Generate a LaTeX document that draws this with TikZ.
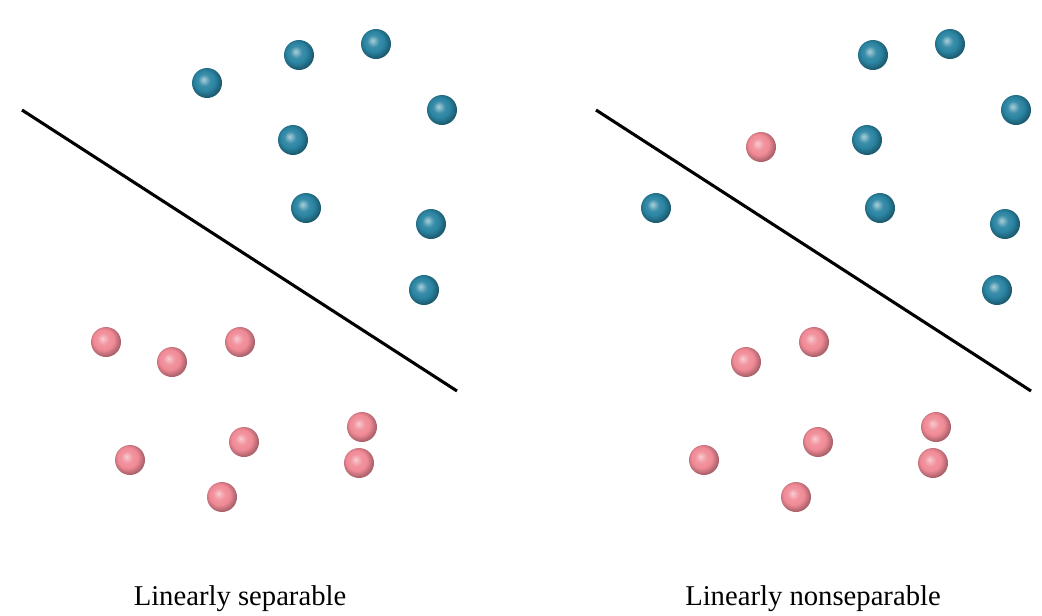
\documentclass[tikz,border=0pt]{standalone}
\usepackage{fontspec}
\setmainfont{Liberation Serif}
\definecolor{ballblue}{RGB}{42,132,162}
\definecolor{ballpink}{RGB}{240,138,150}
\pgfdeclareradialshading{blueballsh}{\pgfpoint{-6bp}{6bp}}{%
  color(0bp)=(ballblue!40!white); color(3bp)=(ballblue!55!white);
  color(10bp)=(ballblue!92!white); color(17bp)=(ballblue);
  color(26bp)=(ballblue!70!black); color(32bp)=(ballblue!65!black);
  color(50bp)=(ballblue!65!black)}
\pgfdeclareradialshading{pinkballsh}{\pgfpoint{-6bp}{6bp}}{%
  color(0bp)=(ballpink!40!white); color(3bp)=(ballpink!60!white);
  color(10bp)=(ballpink!92!white); color(17bp)=(ballpink);
  color(26bp)=(ballpink!72!black); color(32bp)=(ballpink!65!black);
  color(50bp)=(ballpink!65!black)}
\tikzset{
  bball/.style={circle,minimum size=22.5pt,inner sep=0pt,shading=blueballsh},
  pball/.style={circle,minimum size=22.5pt,inner sep=0pt,shading=pinkballsh},
  sepline/.style={line width=2.3pt,black},
  caption/.style={font=\fontsize{21.5}{24}\selectfont,anchor=base}
}
\begin{document}
\begin{tikzpicture}[x=0.75pt,y=-0.75pt]
\useasboundingbox (0,0) rectangle (1042,615);
% left panel
\coordinate (l1) at (22,110);
\coordinate (l2) at (457,391);
\draw[sepline] (l1) -- (l2);
\node[bball] (a1) at (207,83) {};
\node[bball] (a2) at (299,55) {};
\node[bball] (a3) at (376,44) {};
\node[bball] (a4) at (442,110) {};
\node[bball] (a5) at (293,140) {};
\node[bball] (a6) at (306,208) {};
\node[bball] (a7) at (431,224) {};
\node[bball] (a8) at (424,290) {};
\node[pball] (p1) at (106,342) {};
\node[pball] (p2) at (172,362) {};
\node[pball] (p3) at (240,342) {};
\node[pball] (p4) at (130,460) {};
\node[pball] (p5) at (244,442) {};
\node[pball] (p6) at (362,427) {};
\node[pball] (p7) at (359,463) {};
\node[pball] (p8) at (222,497) {};
\node[caption] (c1) at (240,605) {Linearly separable};
% right panel
\coordinate (r1) at (596,110);
\coordinate (r2) at (1031,391);
\draw[sepline] (r1) -- (r2);
\node[bball] (b1) at (656,208) {};
\node[bball] (b2) at (873,55) {};
\node[bball] (b3) at (950,44) {};
\node[bball] (b4) at (1016,110) {};
\node[bball] (b5) at (867,140) {};
\node[bball] (b6) at (880,208) {};
\node[bball] (b7) at (1005,224) {};
\node[bball] (b8) at (997,290) {};
\node[pball] (q1) at (761,147) {};
\node[pball] (q2) at (746,362) {};
\node[pball] (q3) at (814,342) {};
\node[pball] (q4) at (704,460) {};
\node[pball] (q5) at (818,442) {};
\node[pball] (q6) at (936,427) {};
\node[pball] (q7) at (933,463) {};
\node[pball] (q8) at (796,497) {};
\node[caption] (c2) at (813,605) {Linearly nonseparable};
\end{tikzpicture}
\end{document}
